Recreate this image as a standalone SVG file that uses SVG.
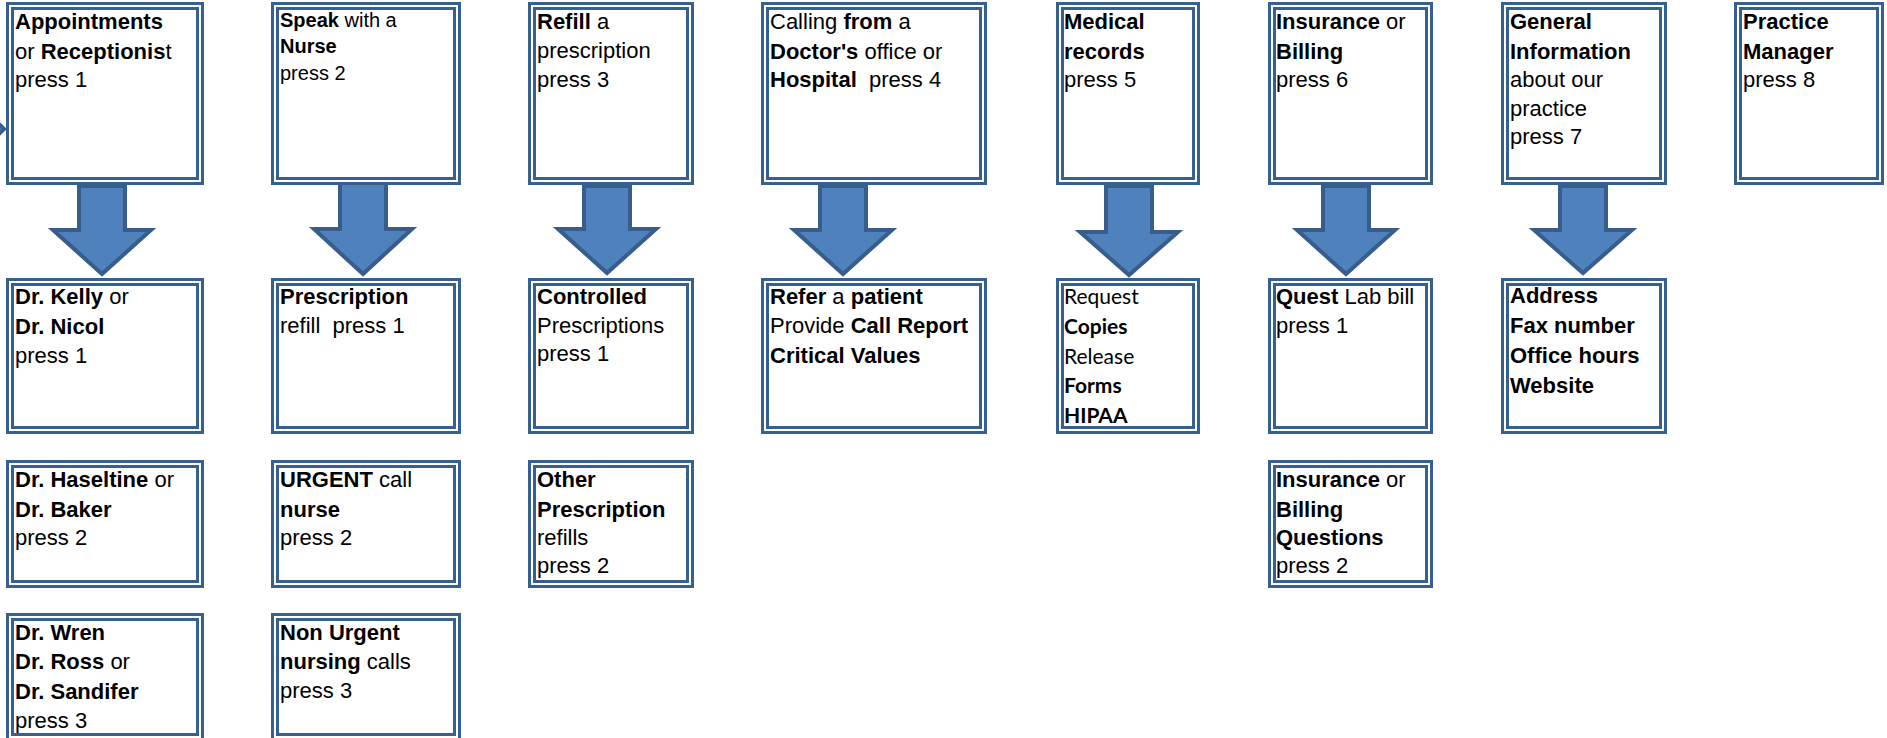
<svg xmlns="http://www.w3.org/2000/svg" width="1887" height="738" viewBox="0 0 1887 738">
<style>
.bo,.bi{fill:none;stroke:#376092;stroke-width:3}
.bo{fill:#ffffff}
text{font-family:"Liberation Sans",Arial,sans-serif;font-size:22px;fill:#000;white-space:pre}
.b{font-weight:bold}
.s20{font-size:20px}
.cal{font-family:Lato,"Liberation Sans",sans-serif;font-size:21px}
.arr{fill:#4F81BD;stroke:#385D8A;stroke-width:4;stroke-linejoin:miter}
</style>
<rect width="1887" height="738" fill="#ffffff"/>
<g id="connectors">
<polygon class="arr" points="-10,115 4,129 -10,143"/>
<path class="arr" d="M79,186 H125 V230 H151 L102,274 L53,230 H79 Z"/>
<path class="arr" d="M340,183 H386 V229 H412 L363,274 L314,229 H340 Z"/>
<path class="arr" d="M584,186 H630 V229 H656 L607,273 L558,229 H584 Z"/>
<path class="arr" d="M820,186 H866 V230 H892 L843,274 L794,230 H820 Z"/>
<path class="arr" d="M1106,186 H1152 V232 H1178 L1129,275 L1080,232 H1106 Z"/>
<path class="arr" d="M1323,186 H1369 V230 H1395 L1346,274 L1297,230 H1323 Z"/>
<path class="arr" d="M1560,186 H1606 V230 H1632 L1583,273 L1534,230 H1560 Z"/>
</g>
<g id="n_appointments">
<rect class="bo" x="7.5" y="3.5" width="195" height="180"/><rect class="bi" x="12.5" y="8.5" width="185" height="170"/>
<text x="15" y="29.3" class="b">Appointments</text>
<text x="15" y="59.3">or <tspan class="b">Receptionis</tspan>t</text>
<text x="15" y="87.3">press 1</text>
</g>
<g id="n_nurse">
<rect class="bo" x="272.5" y="3.5" width="187" height="180"/><rect class="bi" x="277.5" y="8.5" width="177" height="170"/>
<text x="280" y="26.7" class="s20"><tspan class="b">Speak</tspan> with a</text>
<text x="280" y="52.7" class="s20 b">Nurse</text>
<text x="280" y="80" class="s20">press 2</text>
</g>
<g id="n_refill">
<rect class="bo" x="529.5" y="3.5" width="163" height="180"/><rect class="bi" x="534.5" y="8.5" width="153" height="170"/>
<text x="537" y="29.3"><tspan class="b">Refill</tspan> a</text>
<text x="537" y="58.3">prescription</text>
<text x="537" y="86.7">press 3</text>
</g>
<g id="n_calling">
<rect class="bo" x="762.5" y="3.5" width="223" height="180"/><rect class="bi" x="767.5" y="8.5" width="213" height="170"/>
<text x="770" y="29.3">Calling <tspan class="b">from</tspan> a</text>
<text x="770" y="59.3"><tspan class="b">Doctor's</tspan> office or</text>
<text x="770" y="87.3"><tspan class="b">Hospital</tspan>  press 4</text>
</g>
<g id="n_records">
<rect class="bo" x="1057.5" y="3.5" width="141" height="180"/><rect class="bi" x="1062.5" y="8.5" width="131" height="170"/>
<text x="1064" y="29.3" class="b">Medical</text>
<text x="1064" y="59.3" class="b">records</text>
<text x="1064" y="87.3">press 5</text>
</g>
<g id="n_insurance">
<rect class="bo" x="1269.5" y="3.5" width="162" height="180"/><rect class="bi" x="1274.5" y="8.5" width="152" height="170"/>
<text x="1276" y="29.3"><tspan class="b">Insurance</tspan> or</text>
<text x="1276" y="59.3" class="b">Billing</text>
<text x="1276" y="87.3">press 6</text>
</g>
<g id="n_general">
<rect class="bo" x="1502.5" y="3.5" width="163" height="180"/><rect class="bi" x="1507.5" y="8.5" width="153" height="170"/>
<text x="1510" y="29.3" class="b">General</text>
<text x="1510" y="59.3" class="b">Information</text>
<text x="1510" y="87.3">about our</text>
<text x="1510" y="116">practice</text>
<text x="1510" y="144">press 7</text>
</g>
<g id="n_manager">
<rect class="bo" x="1735.5" y="3.5" width="147" height="180"/><rect class="bi" x="1740.5" y="8.5" width="137" height="170"/>
<text x="1743" y="29.3" class="b">Practice</text>
<text x="1743" y="59.3" class="b">Manager</text>
<text x="1743" y="87.3">press 8</text>
</g>
<g id="n_kelly">
<rect class="bo" x="7.5" y="279.5" width="195" height="153"/><rect class="bi" x="12.5" y="284.5" width="185" height="143"/>
<text x="15" y="304"><tspan class="b">Dr. Kelly</tspan> or</text>
<text x="15" y="334" class="b">Dr. Nicol</text>
<text x="15" y="363.3">press 1</text>
</g>
<g id="n_prescription">
<rect class="bo" x="272.5" y="279.5" width="187" height="153"/><rect class="bi" x="277.5" y="284.5" width="177" height="143"/>
<text x="280" y="304" class="b">Prescription</text>
<text x="280" y="333.3">refill  press 1</text>
</g>
<g id="n_controlled">
<rect class="bo" x="529.5" y="279.5" width="163" height="153"/><rect class="bi" x="534.5" y="284.5" width="153" height="143"/>
<text x="537" y="304" class="b">Controlled</text>
<text x="537" y="333.3">Prescriptions</text>
<text x="537" y="360.7">press 1</text>
</g>
<g id="n_refer">
<rect class="bo" x="762.5" y="279.5" width="223" height="153"/><rect class="bi" x="767.5" y="284.5" width="213" height="143"/>
<text x="770" y="304"><tspan class="b">Refer</tspan> a <tspan class="b">patient</tspan></text>
<text x="770" y="333.3">Provide <tspan class="b">Call Report</tspan></text>
<text x="770" y="363.3" class="b">Critical Values</text>
</g>
<g id="n_request">
<rect class="bo" x="1057.5" y="279.5" width="141" height="153"/><rect class="bi" x="1062.5" y="284.5" width="131" height="143"/>
<text x="1064" y="304" class="cal">Request</text>
<text x="1064" y="334" class="cal b">Copies</text>
<text x="1064" y="364" class="cal">Release</text>
<text x="1064" y="393.3" class="cal b">Forms</text>
<text x="1064" y="423.3" class="cal b">HIPAA</text>
</g>
<g id="n_quest">
<rect class="bo" x="1269.5" y="279.5" width="162" height="153"/><rect class="bi" x="1274.5" y="284.5" width="152" height="143"/>
<text x="1276" y="304"><tspan class="b">Quest</tspan> Lab bill</text>
<text x="1276" y="333.3">press 1</text>
</g>
<g id="n_address">
<rect class="bo" x="1502.5" y="279.5" width="163" height="153"/><rect class="bi" x="1507.5" y="284.5" width="153" height="143"/>
<text x="1510" y="303.3" class="b">Address</text>
<text x="1510" y="333.3" class="b">Fax number</text>
<text x="1510" y="362.7" class="b">Office hours</text>
<text x="1510" y="393.3" class="b">Website</text>
</g>
<g id="n_haseltine">
<rect class="bo" x="7.5" y="461.5" width="195" height="125"/><rect class="bi" x="12.5" y="466.5" width="185" height="115"/>
<text x="15" y="486.7"><tspan class="b">Dr. Haseltine</tspan> or</text>
<text x="15" y="516.7" class="b">Dr. Baker</text>
<text x="15" y="545">press 2</text>
</g>
<g id="n_urgent">
<rect class="bo" x="272.5" y="461.5" width="187" height="125"/><rect class="bi" x="277.5" y="466.5" width="177" height="115"/>
<text x="280" y="486.7"><tspan class="b">URGENT</tspan> call</text>
<text x="280" y="516.7" class="b">nurse</text>
<text x="280" y="545">press 2</text>
</g>
<g id="n_other">
<rect class="bo" x="529.5" y="461.5" width="163" height="125"/><rect class="bi" x="534.5" y="466.5" width="153" height="115"/>
<text x="537" y="486.7" class="b">Other</text>
<text x="537" y="516.7" class="b">Prescription</text>
<text x="537" y="545">refills</text>
<text x="537" y="573.3">press 2</text>
</g>
<g id="n_billing">
<rect class="bo" x="1269.5" y="461.5" width="162" height="125"/><rect class="bi" x="1274.5" y="466.5" width="152" height="115"/>
<text x="1276" y="486.7"><tspan class="b">Insurance</tspan> or</text>
<text x="1276" y="516.7" class="b">Billing</text>
<text x="1276" y="545" class="b">Questions</text>
<text x="1276" y="573.3">press 2</text>
</g>
<g id="n_wren">
<rect class="bo" x="7.5" y="614.5" width="195" height="125"/><rect class="bi" x="12.5" y="619.5" width="185" height="115"/>
<text x="15" y="640" class="b">Dr. Wren</text>
<text x="15" y="669.3"><tspan class="b">Dr. Ross</tspan> or</text>
<text x="15" y="699.3" class="b">Dr. Sandifer</text>
<text x="15" y="728.3">press 3</text>
</g>
<g id="n_nonurgent">
<rect class="bo" x="272.5" y="614.5" width="187" height="125"/><rect class="bi" x="277.5" y="619.5" width="177" height="115"/>
<text x="280" y="640" class="b">Non Urgent</text>
<text x="280" y="669.3"><tspan class="b">nursing</tspan> calls</text>
<text x="280" y="698.3">press 3</text>
</g>
</svg>
